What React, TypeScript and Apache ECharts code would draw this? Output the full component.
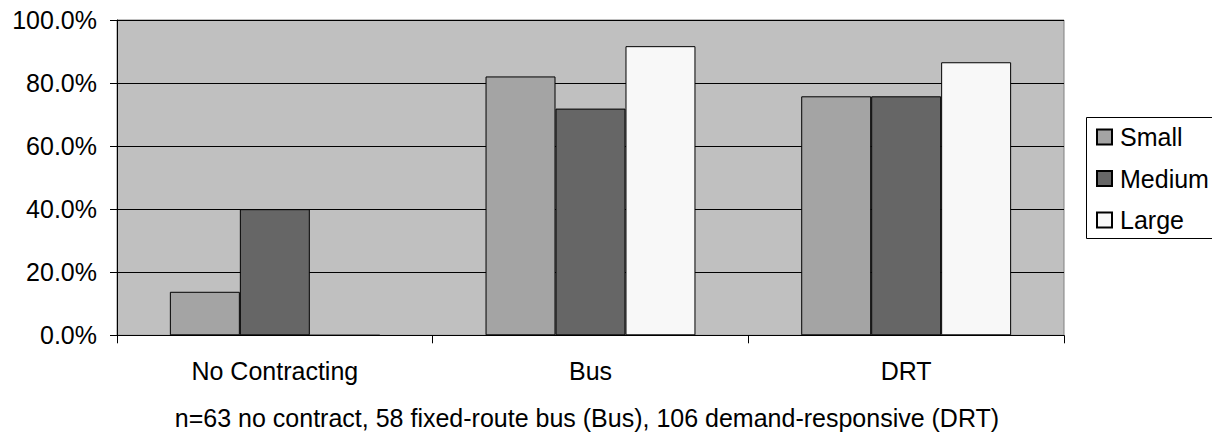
import React, { useEffect, useRef } from "react";
import * as echarts from "echarts";

const categories = ["No Contracting", "Bus", "DRT"];
const seriesNames = ["Small", "Medium", "Large"];
const small = [0.138, 0.821, 0.758];
const medium = [0.4, 0.719, 0.758];
const large = [0, 0.917, 0.866];
const colors = ["#a4a4a4", "#666666", "#f8f8f8"];
const footnote = "n=63 no contract, 58 fixed-route bus (Bus), 106 demand-responsive (DRT)";

const FONT = "'Liberation Sans', Arial, Helvetica, sans-serif";

export default function App() {
  const ref = useRef<HTMLDivElement>(null);
  useEffect(() => {
    document.body.style.margin = "0";
    const chart = echarts.init(ref.current!, null, { renderer: "svg" });
    const values = [small, medium, large];
    chart.setOption({
      animation: false,
      backgroundColor: "#ffffff",
      textStyle: { fontFamily: FONT },
      grid: {
        left: 117,
        top: 20,
        right: 148,
        bottom: 98.7,
        show: true,
        backgroundColor: "#c0c0c0",
        borderColor: "#808080",
        borderWidth: 1,
      },
      legend: {
        orient: "vertical",
        left: 1096,
        top: 124.5,
        padding: 0,
        itemWidth: 15,
        itemHeight: 15,
        itemGap: 16.5,
        icon: "rect",
        data: seriesNames,
        textStyle: { fontFamily: FONT, fontSize: 25, lineHeight: 25, color: "#000", padding: [0, 0, 0, 3] },
      },
      graphic: [
        {
          type: "rect",
          shape: { x: 1086.5, y: 117.5, width: 140, height: 121 },
          style: { fill: "none", stroke: "#000", lineWidth: 1 },
          z: -1,
        },
        {
          type: "text",
          x: 587,
          y: 418,
          style: {
            text: footnote,
            fontFamily: FONT,
            fontSize: 25,
            fill: "#000",
            textAlign: "center",
            textVerticalAlign: "middle",
          },
        },
      ],
      xAxis: {
        type: "category",
        data: categories,
        axisLine: { lineStyle: { color: "#000", width: 1 } },
        axisTick: { show: true, length: 8, lineStyle: { color: "#000" } },
        axisLabel: { fontFamily: FONT, fontSize: 25, color: "#000", margin: 23 },
      },
      yAxis: {
        type: "value",
        min: 0,
        max: 1,
        interval: 0.2,
        axisLine: { show: true, lineStyle: { color: "#000", width: 1 } },
        axisTick: { show: true, length: 7, lineStyle: { color: "#000" } },
        axisLabel: {
          fontFamily: FONT,
          fontSize: 25,
          color: "#000",
          margin: 20,
          formatter: (v: number) => (v * 100).toFixed(1) + "%",
        },
        splitLine: { show: true, lineStyle: { color: "#000", width: 1 } },
      },
      series: seriesNames.map((name, i) => ({
        name,
        type: "bar",
        data: values[i],
        barGap: "0%",
        barCategoryGap: "33.5%",
        itemStyle: { color: colors[i], borderColor: "#000", borderWidth: 1 },
      })),
    });
    return () => chart.dispose();
  }, []);
  return (
    <div
      ref={ref}
      style={{ position: "absolute", left: 0, top: 0, width: 1212, height: 434 }}
    />
  );
}
